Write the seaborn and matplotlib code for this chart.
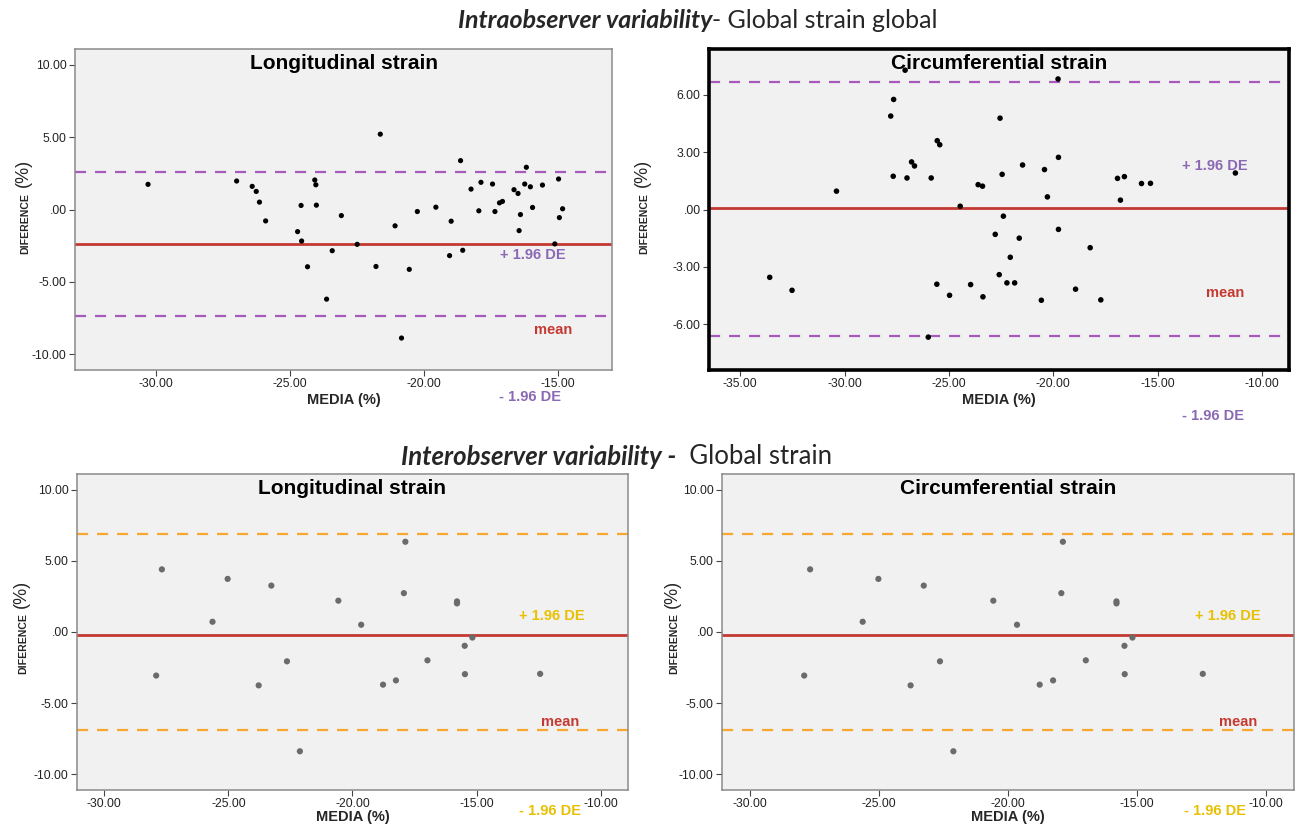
import numpy as np
import pandas as pd
import matplotlib
matplotlib.use('Agg')
import matplotlib.pyplot as plt
from matplotlib.ticker import FuncFormatter
import seaborn as sns

sns.set_style('white')
plt.rcParams['font.family'] = ['Liberation Sans', 'DejaVu Sans']

W, H = 1297, 826

# ---- Intraobserver, longitudinal strain ----
intra_long_media = [-30.28, -26.98, -26.40, -26.25, -26.13, -25.90, -24.71, -24.58, -24.56, -24.34,
                    -24.07, -24.03, -24.01, -23.63, -23.42, -23.08, -22.49, -21.79, -21.63, -21.08,
                    -20.84, -20.55, -20.25, -19.56, -19.05, -18.99, -18.64, -18.56, -18.25, -17.96,
                    -17.88, -17.45, -17.36, -17.19, -17.08, -16.65, -16.50, -16.46, -16.41, -16.25,
                    -16.19, -16.04, -15.96, -15.59, -15.13, -14.99, -14.96, -14.84]
intra_long_diff = [1.74, 1.97, 1.60, 1.25, 0.51, -0.79, -1.53, 0.28, -2.18, -3.96,
                   2.04, 1.71, 0.30, -6.20, -2.85, -0.42, -2.41, -3.94, 5.21, -1.13,
                   -8.89, -4.14, -0.14, 0.16, -3.19, -0.81, 3.38, -2.82, 1.41, -0.09,
                   1.88, 1.76, -0.14, 0.46, 0.56, 1.37, 1.11, -1.46, -0.35, 1.76,
                   2.92, 1.57, 0.14, 1.69, -2.38, 2.11, -0.56, 0.05]
intra_long_lines = [2.59, -2.36, -7.34]  # +1.96 DE, mean, -1.96 DE

# ---- Intraobserver, circumferential strain ----
intra_circ_media = [-27.10, -19.77, -27.65, -27.79, -22.55, -25.56, -25.44, -19.75, -26.79, -26.65,
                    -21.47, -20.42, -22.45, -27.67, -27.01, -25.85, -11.27, -16.92, -16.59, -15.77,
                    -15.34, -23.60, -23.39, -30.39, -20.28, -16.78, -24.46, -22.39, -19.75, -22.78,
                    -21.63, -18.23, -22.06, -33.59, -22.59, -22.22, -21.85, -25.58, -23.96, -32.52,
                    -18.93, -24.97, -23.37, -20.57, -17.72, -25.99]
intra_circ_diff = [7.29, 6.83, 5.76, 4.89, 4.78, 3.60, 3.39, 2.73, 2.49, 2.28,
                   2.33, 2.09, 1.84, 1.74, 1.65, 1.65, 1.91, 1.63, 1.72, 1.36,
                   1.37, 1.30, 1.22, 0.96, 0.66, 0.49, 0.17, -0.35, -1.04, -1.30,
                   -1.50, -2.00, -2.50, -3.55, -3.41, -3.84, -3.84, -3.91, -3.93, -4.23,
                   -4.17, -4.49, -4.57, -4.75, -4.73, -6.68]
intra_circ_lines = [6.68, 0.07, -6.61]

# ---- Interobserver (both panels show the same points) ----
inter_media = [-27.68, -25.03, -23.27, -17.87, -17.93, -20.57, -15.79, -15.79, -25.64, -19.65,
               -15.17, -15.48, -22.64, -16.98, -27.91, -15.47, -12.44, -23.78, -18.77, -18.25,
               -22.12]
inter_diff = [4.40, 3.73, 3.26, 6.34, 2.73, 2.20, 2.15, 2.01, 0.72, 0.51,
              -0.39, -0.97, -2.06, -1.99, -3.06, -2.96, -2.94, -3.75, -3.70, -3.40,
              -8.38]
inter_lines = [6.88, -0.23, -6.88]

RED = '#c43a32'
PURPLE = '#a65bbb'
PURPLE_TXT = '#8a68b4'
ORANGE = '#f7a831'
GOLD = '#e9c000'


def fmt(v, pos):
    s = '%.2f' % v
    if s in ('0.00', '-0.00'):
        return '.00'
    return s


def make_ax(fig, l, t, r, b):
    return fig.add_axes([l / W, 1 - b / H, (r - l) / W, (b - t) / H])


def panel(ax, media, diff, lines, xlim, ylim, xticks, yticks, title,
          dash_col, txt_col, dot_col, dot_size, plus_pos, mean_pos, minus_pos,
          heavy=False, xpad=2):
    ax.set_facecolor('#f1f1f1')
    df = pd.DataFrame({'media': media, 'diff': diff})
    sns.scatterplot(data=df, x='media', y='diff', ax=ax, color=dot_col,
                    s=dot_size, edgecolor='none', zorder=3)
    ax.axhline(lines[0], color=dash_col, lw=1.6, ls=(0, (5, 4)), zorder=2)
    ax.axhline(lines[2], color=dash_col, lw=1.6, ls=(0, (5, 4)), zorder=2)
    ax.axhline(lines[1], color=RED, lw=2.0, zorder=2)
    ax.set_xlim(*xlim)
    ax.set_ylim(*ylim)
    ax.set_xticks(xticks)
    ax.set_yticks(yticks)
    ax.xaxis.set_major_formatter(FuncFormatter(fmt))
    ax.yaxis.set_major_formatter(FuncFormatter(fmt))
    ax.tick_params(axis='both', which='both', direction='out', length=4,
                   width=0.8, color='#444444', labelsize=8.7, labelcolor='#222222',
                   left=True, bottom=True, pad=2)
    for sp in ax.spines.values():
        if heavy:
            sp.set_color('black')
            sp.set_linewidth(2.6)
        else:
            sp.set_color('#8a8a8a')
            sp.set_linewidth(1.1)
    ax.set_xlabel('MEDIA (%)', fontsize=10.5, fontweight='bold', labelpad=xpad)
    ax.set_ylabel('')
    ax.text(0.5, 0.955, title, transform=ax.transAxes, ha='center', va='center',
            fontsize=15, fontweight='bold', color='black')
    ax.text(plus_pos[0], plus_pos[1], '+ 1.96 DE', ha='center', va='center',
            fontsize=10.5, fontweight='bold', color=txt_col)
    ax.text(mean_pos[0], mean_pos[1], 'mean', ha='center', va='center',
            fontsize=10.5, fontweight='bold', color=RED)
    ax.text(minus_pos[0], minus_pos[1], '- 1.96 DE', ha='center', va='center',
            fontsize=10.5, fontweight='bold', color=txt_col, clip_on=False)


def ylabel(fig, x, y_word, y_pct):
    fig.text(x / W, 1 - y_word / H, 'DIFERENCE', rotation=90, ha='center',
             va='center', fontsize=7.6, fontweight='bold')
    fig.text((x - 2) / W, 1 - y_pct / H, '(%)', rotation=90, ha='center',
             va='center', fontsize=13)


fig = plt.figure(figsize=(W / 100, H / 100), dpi=100)

ax1 = make_ax(fig, 75, 49, 612, 370)
panel(ax1, intra_long_media, intra_long_diff, intra_long_lines,
      (-33.0, -13.0), (-11.1, 11.1), [-30, -25, -20, -15], [-10, -5, 0, 5, 10],
      'Longitudinal strain', PURPLE, PURPLE_TXT, 'black', 14,
      (-15.96, -3.15), (-15.2, -8.3), (-16.04, -13.0))
ylabel(fig, 25, 224, 173)

ax2 = make_ax(fig, 709, 49, 1289, 370)
panel(ax2, intra_circ_media, intra_circ_diff, intra_circ_lines,
      (-36.5, -8.7), (-8.4, 8.4), [-35, -30, -25, -20, -15, -10], [-6, -3, 0, 3, 6],
      'Circumferential strain', PURPLE, PURPLE_TXT, 'black', 16,
      (-12.25, 2.26), (-11.78, -4.35), (-12.36, -10.83), heavy=True)
ylabel(fig, 644, 224, 173)

ax3 = make_ax(fig, 77, 474, 628, 790)
panel(ax3, inter_media, inter_diff, inter_lines,
      (-31.1, -8.9), (-11.1, 11.1), [-30, -25, -20, -15, -10], [-10, -5, 0, 5, 10],
      'Longitudinal strain', ORANGE, GOLD, '#6b6b6b', 20,
      (-11.98, 1.11), (-11.65, -6.34), (-12.06, -12.55), xpad=0)
ylabel(fig, 23, 644, 594)

ax4 = make_ax(fig, 722, 474, 1294, 790)
panel(ax4, inter_media, inter_diff, inter_lines,
      (-31.1, -8.9), (-11.1, 11.1), [-30, -25, -20, -15, -10], [-10, -5, 0, 5, 10],
      'Circumferential strain', ORANGE, GOLD, '#6b6b6b', 20,
      (-11.47, 1.11), (-11.07, -6.34), (-11.97, -12.55), xpad=0)
ylabel(fig, 674, 644, 594)

# section headings: bold italic lead, then regular text
fig.text(712 / W, 1 - 20 / H, 'Intraobserver variability', ha='right', va='center',
         fontsize=18, fontweight='bold', fontstyle='italic',
         family=['Lato', 'DejaVu Sans'])
fig.text(712 / W, 1 - 20 / H, '- Global strain global', ha='left', va='center',
         fontsize=18, family=['Lato', 'DejaVu Sans'])
fig.text(676 / W, 1 - 457 / H, 'Interobserver variability -', ha='right', va='center',
         fontsize=18.5, fontweight='bold', fontstyle='italic',
         family=['Lato', 'DejaVu Sans'])
fig.text(676 / W, 1 - 457 / H, '  Global strain', ha='left', va='center',
         fontsize=18.5, family=['Lato', 'DejaVu Sans'])

fig.savefig('out.png', dpi=100)
